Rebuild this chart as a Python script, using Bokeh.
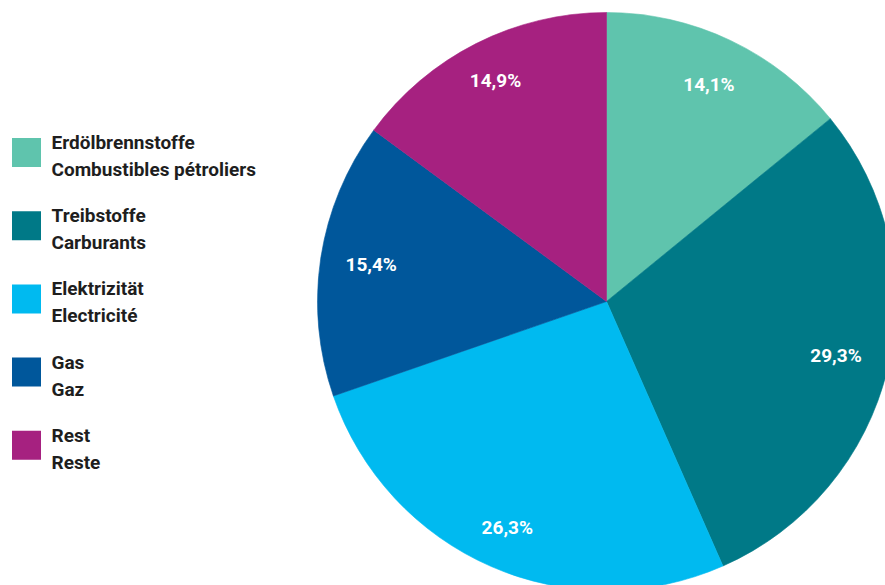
import math
from bokeh.plotting import figure
from bokeh.models import Range1d, ColumnDataSource
from bokeh.core.properties import value
from bokeh.embed import file_html
from bokeh.resources import INLINE

# ---- data ----
labels_de = ["Erdölbrennstoffe", "Treibstoffe", "Elektrizität", "Gas", "Rest"]
labels_fr = ["Combustibles pétroliers", "Carburants", "Electricité", "Gaz", "Reste"]
shares = [14.1, 29.3, 26.3, 15.4, 14.9]
share_text = ["14,1%", "29,3%", "26,3%", "15,4%", "14,9%"]
colors = ["#5fc4ad", "#007987", "#00baf0", "#00579b", "#a62180"]

# ---- layout ----
W, H = 885, 585
CX, CY, R = 606, H - 301, 289
label_r = [239, 236, 248, 238, 246]
FONT = "Roboto"

total = sum(shares)
starts, ends, lx, ly = [], [], [], []
cum = 0.0
for s, lr in zip(shares, label_r):
    a0 = math.pi / 2 - 2 * math.pi * cum / total
    cum += s
    a1 = math.pi / 2 - 2 * math.pi * cum / total
    starts.append(a0)
    ends.append(a1)
    mid = (a0 + a1) / 2
    lx.append(CX + lr * math.cos(mid))
    ly.append(CY + lr * math.sin(mid) + 1)

src = ColumnDataSource(dict(start=starts, end=ends, color=colors,
                            lx=lx, ly=ly, txt=share_text))

p = figure(width=W, height=H, output_backend="svg", toolbar_location=None,
           x_range=Range1d(0, W), y_range=Range1d(0, H), min_border=0,
           background_fill_color="white", border_fill_color="white")
p.axis.visible = False
p.grid.visible = False
p.outline_line_color = None

p.wedge(x=CX, y=CY, radius=R, start_angle="start", end_angle="end",
        direction="clock", fill_color="color", line_color="color",
        line_width=0.6, source=src)

p.text(x="lx", y="ly", text="txt", source=src, text_color="white",
       text_font=value(FONT), text_font_style="bold",
       text_font_size="19px", text_align="center", text_baseline="middle")

# ---- legend ----
leg_y = [H - (152 + 73.2 * i) for i in range(len(labels_de))]
p.rect(x=[26] * len(leg_y), y=leg_y, width=29, height=29,
       fill_color=colors, line_color=None)
p.text(x=[51] * len(leg_y), y=[y + 10 for y in leg_y], text=labels_de,
       text_color="#1e1e1e", text_font=value(FONT),
       text_font_style="bold", text_font_size="19px",
       text_align="left", text_baseline="middle")
p.text(x=[51] * len(leg_y), y=[y - 17 for y in leg_y], text=labels_fr,
       text_color="#1e1e1e", text_font=value(FONT),
       text_font_style="bold", text_font_size="19px",
       text_align="left", text_baseline="middle")

open("out.html", "w").write(file_html(p, INLINE))
